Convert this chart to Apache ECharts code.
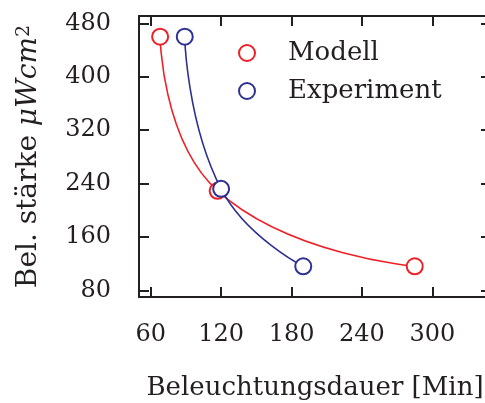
<!DOCTYPE html>
<html>
<head>
<meta charset="utf-8">
<script src="https://cdn.jsdelivr.net/npm/echarts@6/dist/echarts.min.js"></script>
<style>
  html, body { margin: 0; padding: 0; background: #fff; }
  #chart { width: 485px; height: 403px; }
</style>
</head>
<body>
<div id="chart"></div>
<script>
// Illumination intensity vs. illumination duration
const seriesNames = ['Modell', 'Experiment'];
const modellDauer = [68, 117, 285];
const modellStaerke = [460, 229, 116];
const experimentDauer = [89, 120, 190];
const experimentStaerke = [460, 232, 116];
const xTicks = [60, 120, 180, 240, 300];
const yTicks = [80, 160, 240, 320, 400, 480];

const RED = '#ee2027';
const BLUE = '#2e3192';
const INK = '#231f20';
const FONT = 'DejaVu Serif';

const pairs = (xs, ys) => xs.map((x, i) => [x, ys[i]]);

const frameLine = { show: true, lineStyle: { color: INK, width: 2 } };
const innerTick = (vals) => ({
  show: true, inside: true, length: 10, customValues: vals,
  lineStyle: { color: INK, width: 2 }
});

const chart = echarts.init(document.getElementById('chart'));
chart.setOption({
  animation: false,
  backgroundColor: '#fff',
  // frame runs slightly past the right edge of the canvas
  grid: { left: 139, right: -6, top: 16, bottom: 106, containLabel: false, outerBoundsMode: 'none' },
  legend: {
    orient: 'vertical',
    left: 233,
    top: 35,
    icon: 'emptyCircle',
    itemWidth: 16,
    itemHeight: 16,
    itemGap: 12,
    itemStyle: { borderWidth: 1.6 },
    textStyle: { fontFamily: FONT, fontSize: 26, color: INK, padding: [0, 0, 0, 28] },
    data: seriesNames
  },
  xAxis: [
    {
      type: 'value', min: 50, max: 350, position: 'bottom',
      name: 'Beleuchtungsdauer [Min]',
      nameLocation: 'middle', nameGap: 78,
      nameTextStyle: { fontFamily: FONT, fontSize: 26, color: INK },
      axisLine: frameLine,
      axisTick: innerTick(xTicks),
      axisLabel: { customValues: xTicks, margin: 26, fontFamily: FONT, fontSize: 24, color: INK },
      splitLine: { show: false }
    },
    {
      type: 'value', min: 50, max: 350, position: 'top',
      axisLine: frameLine,
      axisTick: innerTick(xTicks),
      axisLabel: { show: false },
      splitLine: { show: false }
    }
  ],
  yAxis: [
    {
      type: 'value', min: 70, max: 491, position: 'left',
      name: '{a|Bel. stärke }{m|μWcm}{s|2}',
      nameLocation: 'middle', nameGap: 96, nameRotate: 90,
      nameTextStyle: {
        rich: {
          a: { fontFamily: FONT, fontSize: 28, color: INK, verticalAlign: 'bottom' },
          m: { fontFamily: FONT, fontSize: 28, fontStyle: 'italic', color: INK, verticalAlign: 'bottom' },
          s: { fontFamily: FONT, fontSize: 19, color: INK, verticalAlign: 'top' }
        }
      },
      axisLine: frameLine,
      axisTick: innerTick(yTicks),
      axisLabel: { customValues: yTicks, margin: 28, padding: [4, 0, 0, 0], fontFamily: FONT, fontSize: 24, color: INK },
      splitLine: { show: false }
    },
    {
      type: 'value', min: 70, max: 491, position: 'right',
      axisLine: frameLine,
      axisTick: innerTick(yTicks),
      axisLabel: { show: false },
      splitLine: { show: false }
    }
  ],
  series: [
    {
      name: seriesNames[0], type: 'line', smooth: true,
      data: pairs(modellDauer, modellStaerke),
      symbol: 'emptyCircle', symbolSize: 16,
      lineStyle: { color: RED, width: 1.6 },
      itemStyle: { color: RED, borderColor: RED, borderWidth: 1.6 }
    },
    {
      name: seriesNames[1], type: 'line', smooth: true,
      data: pairs(experimentDauer, experimentStaerke),
      symbol: 'emptyCircle', symbolSize: 16,
      lineStyle: { color: BLUE, width: 1.6 },
      itemStyle: { color: BLUE, borderColor: BLUE, borderWidth: 1.6 }
    }
  ]
});
</script>
</body>
</html>
